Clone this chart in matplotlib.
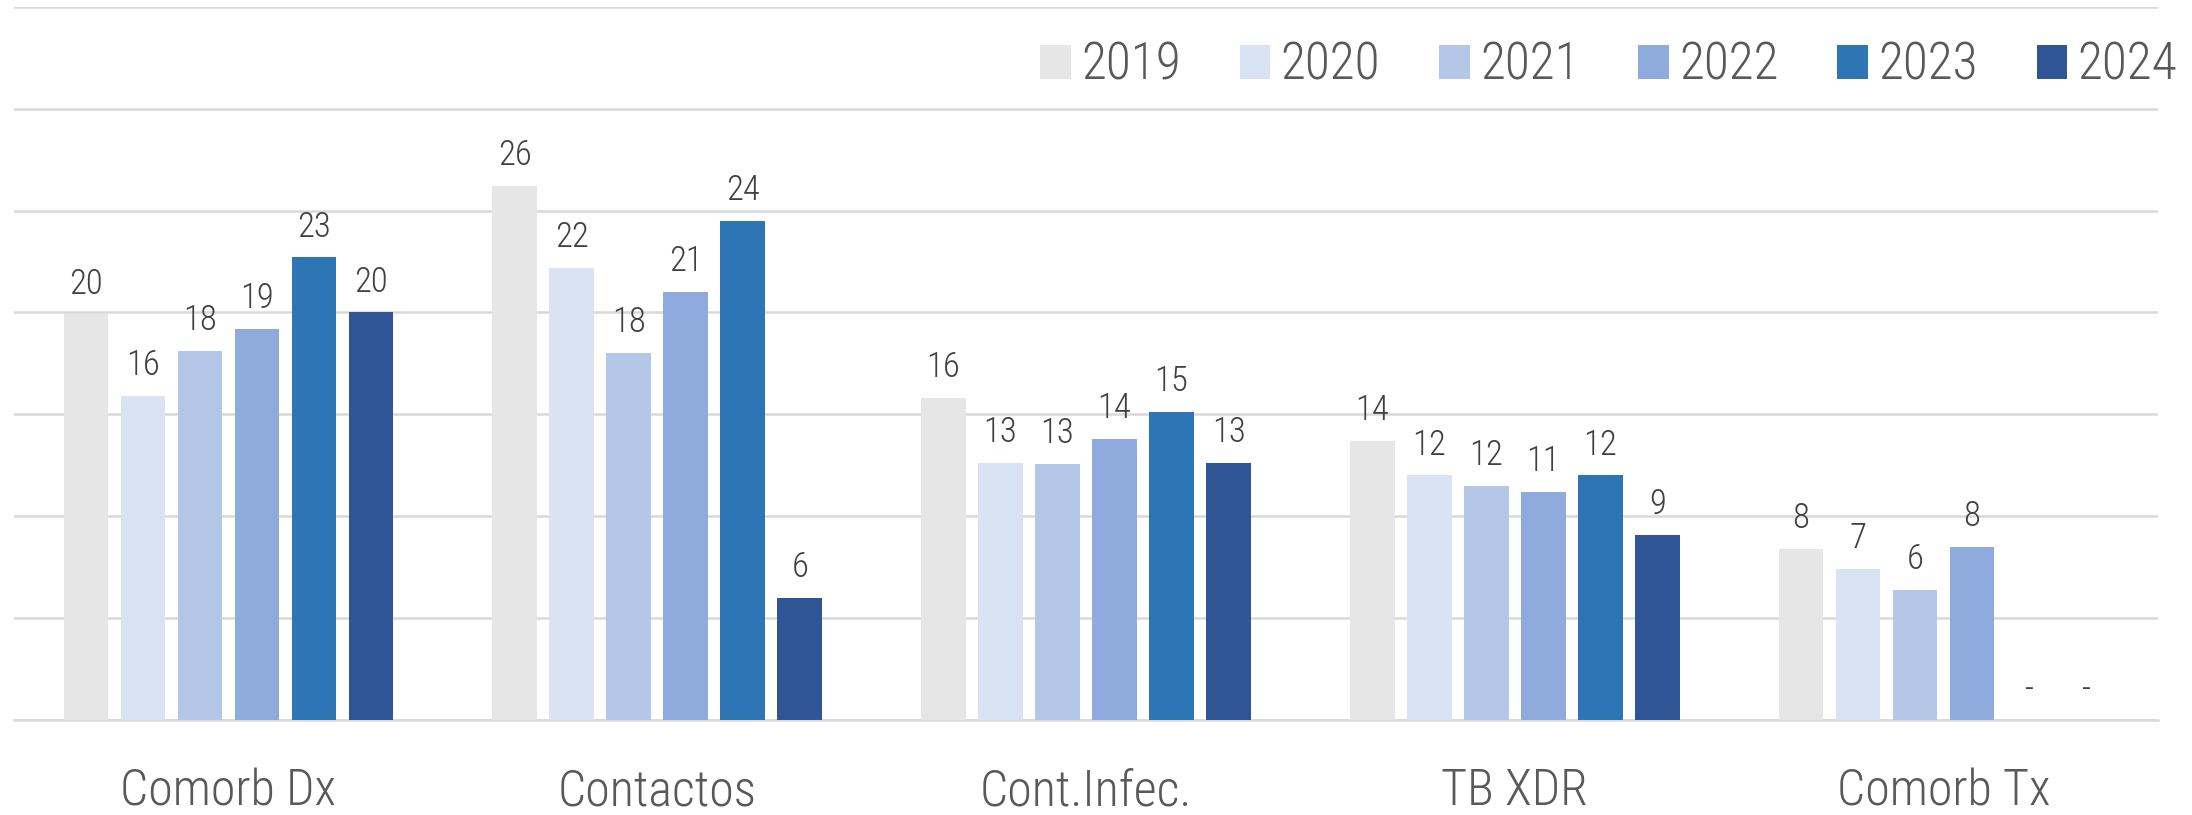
import matplotlib
matplotlib.use("Agg")
import matplotlib.pyplot as plt
from matplotlib import font_manager as fm
from matplotlib.patches import Patch
import numpy as np

categories = ["Comorb Dx", "Contactos", "Cont.Infec.", "TB XDR", "Comorb Tx"]
years = ["2019", "2020", "2021", "2022", "2023", "2024"]
values = {
    "2019": [19.9, 26.2, 15.8, 13.7, 8.4],
    "2020": [15.9, 22.2, 12.6, 12.0, 7.4],
    "2021": [18.1, 18.0, 12.55, 11.5, 6.4],
    "2022": [19.2, 21.0, 13.8, 11.2, 8.5],
    "2023": [22.7, 24.5, 15.1, 12.0, 0.0],
    "2024": [20.0, 6.0, 12.6, 9.1, 0.0],
}
colors = ["#E7E6E6", "#DAE3F3", "#B4C7E7", "#8FAADC", "#2E75B6", "#2F5597"]

names = {f.name for f in fm.fontManager.ttflist}
family = "DejaVu Sans"
stretch = "condensed"
for cand in ["Roboto Condensed", "Liberation Sans Narrow", "Arial Narrow"]:
    if cand in names:
        family = cand
        stretch = "normal"
        break
plt.rcParams["font.family"] = [family, "DejaVu Sans"]
plt.rcParams["font.stretch"] = stretch
plt.rcParams["font.weight"] = "light"

fig = plt.figure(figsize=(21.92, 8.15), dpi=100)
ax = fig.add_axes([14 / 2192, 1 - 720 / 815, (2158 - 14) / 2192, (720 - 6.8) / 815])

x = np.arange(len(categories))
pitch = 0.133
width = 0.104
for j, (yr, col) in enumerate(zip(years, colors)):
    xs = x + (j - 2.5) * pitch
    vals = values[yr]
    ax.bar(xs, vals, width=width, color=col, zorder=3, label=yr)
    for xi, v in zip(xs, vals):
        lab = f"{v:.0f}" if v > 0 else "-"
        ax.annotate(lab, (xi, v), xytext=(0, 15), textcoords="offset points",
                    ha="center", va="baseline", fontsize=25, color="#404040",
                    fontweight="light")

ax.set_xlim(-0.5, len(categories) - 0.5)
ax.set_ylim(0, 35)
ax.set_yticks(np.arange(0, 36, 5))
ax.yaxis.grid(True, color="#D9D9D9", linewidth=1.8, zorder=0)
ax.set_axisbelow(True)
ax.tick_params(axis="y", left=False, labelleft=False)
ax.set_xticks(x)
ax.set_xticklabels(categories, fontsize=36, color="#595959", fontweight="light")
ax.tick_params(axis="x", bottom=False, pad=31)
for s in ["top", "right", "left"]:
    ax.spines[s].set_visible(False)
ax.spines["bottom"].set_color("#D9D9D9")
ax.spines["bottom"].set_linewidth(1.8)

handles = [Patch(facecolor=c, edgecolor="none", label=y) for y, c in zip(years, colors)]
leg = ax.legend(handles=handles, ncol=6, loc="center right",
                bbox_to_anchor=(1.009, (720 - 66) / (720 - 6.8)),
                frameon=False, prop={"size": 37, "weight": "light"},
                handlelength=0.6, handleheight=0.65,
                handletextpad=0.2, columnspacing=1.14, borderaxespad=0, borderpad=0)
for t in leg.get_texts():
    t.set_color("#595959")

fig.savefig("out.png", dpi=100)
